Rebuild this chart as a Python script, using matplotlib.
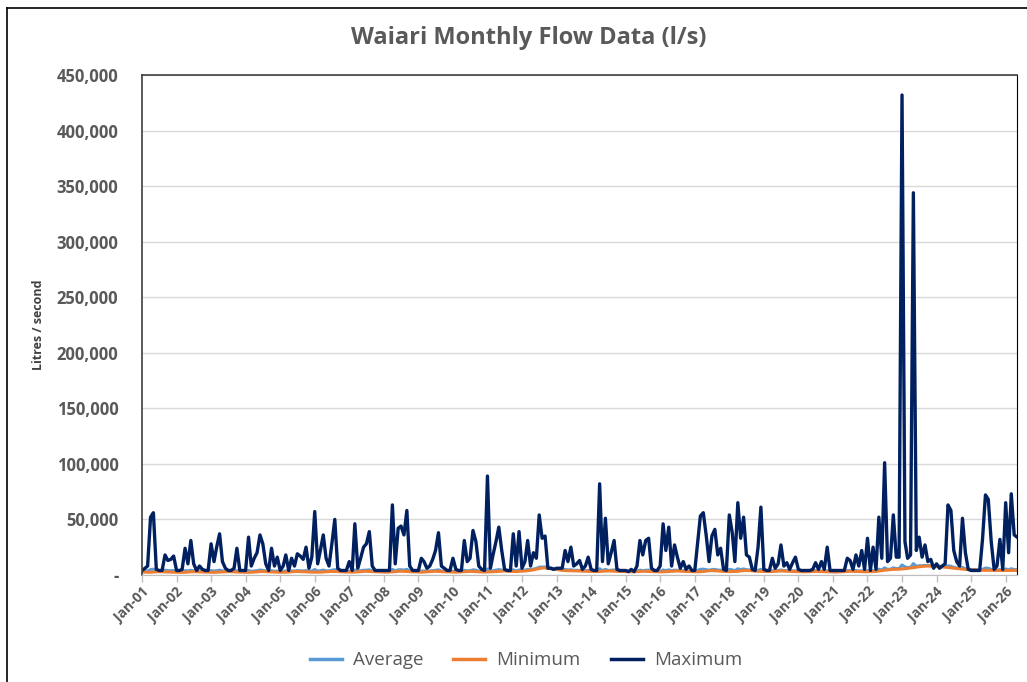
import matplotlib
matplotlib.use("Agg")
import matplotlib.pyplot as plt
import matplotlib.dates as mdates
from matplotlib.ticker import FuncFormatter
from matplotlib.lines import Line2D
import pandas as pd

# monthly maximum flow (l/s), one row per year, Jan 2001 .. May 2026
max_2001 = [4000, 6000, 8000, 52000, 56000, 5000, 4000, 4000, 18000, 13000, 14000, 17000]
max_2002 = [4000, 4000, 5000, 24000, 10000, 31000, 10000, 4000, 8000, 5000, 4000, 4000]
max_2003 = [28000, 12000, 25000, 37000, 12000, 6000, 4000, 4000, 6000, 24000, 4000, 4000]
max_2004 = [4000, 34000, 8000, 15000, 20000, 36000, 28000, 10000, 4000, 24000, 8000, 16000]
max_2005 = [4000, 8000, 18000, 4000, 15000, 8000, 19000, 17000, 14000, 25000, 6000, 16000]
max_2006 = [57000, 10000, 22000, 36000, 15000, 8000, 28000, 50000, 6000, 4000, 4000, 4000]
max_2007 = [12000, 4000, 46000, 6000, 15000, 25000, 28000, 39000, 8000, 4000, 4000, 4000]
max_2008 = [4000, 4000, 4000, 63000, 10000, 42000, 44000, 36000, 58000, 8000, 4000, 4000]
max_2009 = [4000, 15000, 12000, 6000, 8000, 14000, 22000, 38000, 8000, 6000, 4000, 4000]
max_2010 = [15000, 5000, 4000, 4000, 31000, 12000, 15000, 40000, 30000, 8000, 5000, 4000]
max_2011 = [89000, 6000, 18000, 30000, 43000, 22000, 5000, 4000, 4000, 37000, 8000, 39000]
max_2012 = [6000, 12000, 31000, 8000, 20000, 15000, 54000, 33000, 35000, 6000, 6000, 5000]
max_2013 = [6000, 6000, 6000, 22000, 12000, 25000, 8000, 10000, 13000, 5000, 8000, 16000]
max_2014 = [5000, 4000, 4000, 82000, 12000, 51000, 10000, 20000, 31000, 5000, 4000, 4000]
max_2015 = [4000, 3000, 5000, 3000, 8000, 31000, 18000, 31000, 33000, 6000, 4000, 4000]
max_2016 = [8000, 46000, 22000, 43000, 8000, 27000, 16000, 6000, 12000, 5000, 8000, 4000]
max_2017 = [4000, 30000, 53000, 56000, 36000, 12000, 35000, 41000, 18000, 24000, 5000, 4000]
max_2018 = [54000, 38000, 12000, 65000, 33000, 52000, 18000, 16000, 5000, 4000, 25000, 61000]
max_2019 = [5000, 4000, 4000, 15000, 6000, 10000, 27000, 8000, 11000, 5000, 11000, 16000]
max_2020 = [5000, 4000, 4000, 4000, 4000, 5000, 11000, 5000, 12000, 5000, 25000, 4000]
max_2021 = [4000, 4000, 4000, 4000, 4000, 15000, 13000, 5000, 18000, 8000, 22000, 5000]
max_2022 = [33000, 4000, 25000, 5000, 52000, 15000, 101000, 12000, 15000, 54000, 16000, 16000]
max_2023 = [432000, 30000, 15000, 18000, 344000, 22000, 34000, 16000, 27000, 12000, 14000, 6000]
max_2024 = [10000, 6000, 8000, 10000, 63000, 58000, 22000, 12000, 8000, 51000, 20000, 5000]
max_2025 = [4000, 4000, 4000, 4000, 32000, 72000, 68000, 30000, 5000, 8000, 32000, 5000]
max_2026 = [65000, 20000, 73000, 36000, 34000]

min_2001 = [2600, 2500, 2500, 2400, 2600, 2800, 2900, 2800, 2700, 2600, 2500, 2500]
min_2002 = [2400, 2300, 2300, 2400, 2600, 2800, 2900, 2800, 2700, 2600, 2500, 2400]
min_2003 = [2400, 2300, 2400, 2500, 2700, 2900, 3000, 2900, 2800, 2600, 2500, 2400]
min_2004 = [2300, 2300, 2400, 2600, 2800, 3000, 3100, 3000, 2800, 2700, 2600, 2500]
min_2005 = [2400, 2400, 2500, 2600, 2800, 3000, 3100, 3000, 2900, 2800, 2600, 2500]
min_2006 = [2500, 2400, 2500, 2700, 2900, 3100, 3200, 3100, 3000, 2800, 2700, 2600]
min_2007 = [2500, 2500, 2600, 2800, 3000, 3200, 3300, 3200, 3000, 2900, 2700, 2600]
min_2008 = [2500, 2500, 2600, 2800, 3000, 3300, 3400, 3300, 3100, 2900, 2800, 2700]
min_2009 = [2600, 2500, 2600, 2800, 3000, 3200, 3300, 3200, 3000, 2900, 2800, 2700]
min_2010 = [2600, 2500, 2600, 2700, 2900, 3100, 3200, 3100, 3000, 2800, 2700, 2600]
min_2011 = [2700, 2700, 2800, 3000, 3200, 3500, 3600, 3500, 3300, 3100, 3000, 3200]
min_2012 = [3400, 3500, 3800, 4200, 4600, 5200, 5800, 6200, 6300, 6000, 5600, 5200]
min_2013 = [4800, 4400, 4100, 3900, 3800, 3800, 3700, 3600, 3500, 3400, 3300, 3200]
min_2014 = [3100, 3000, 3000, 3100, 3300, 3500, 3600, 3500, 3400, 3200, 3100, 3000]
min_2015 = [2900, 2800, 2800, 2900, 3000, 3200, 3300, 3200, 3100, 3000, 2900, 2800]
min_2016 = [2800, 2800, 2900, 3100, 3300, 3500, 3600, 3500, 3300, 3100, 3000, 2900]
min_2017 = [2800, 2800, 2900, 3100, 3400, 3700, 3900, 3800, 3600, 3400, 3200, 3100]
min_2018 = [3000, 3000, 3100, 3300, 3600, 3900, 4000, 3900, 3700, 3500, 3300, 3200]
min_2019 = [3100, 3000, 3000, 3100, 3300, 3500, 3600, 3500, 3400, 3200, 3100, 3000]
min_2020 = [2900, 2800, 2800, 2900, 3000, 3100, 3200, 3100, 3000, 2900, 2800, 2700]
min_2021 = [2700, 2600, 2700, 2800, 3000, 3200, 3300, 3200, 3100, 3000, 2900, 2900]
min_2022 = [2900, 2900, 3000, 3200, 3500, 3900, 4300, 4600, 4800, 5000, 5100, 5200]
min_2023 = [5400, 5600, 5900, 6200, 6600, 7000, 7400, 7700, 7900, 8000, 8000, 7900]
min_2024 = [7800, 7600, 7300, 7000, 6700, 6400, 6100, 5800, 5500, 5200, 5000, 4800]
min_2025 = [4600, 4400, 4300, 4200, 4100, 4100, 4200, 4200, 4100, 4000, 4000, 3900]
min_2026 = [3900, 3900, 4000, 4100, 4100]

avg_2001 = [3300, 3400, 3500, 4800, 5200, 3700, 3500, 3400, 4300, 3900, 3800, 3900]
avg_2002 = [3200, 3100, 3100, 3900, 3600, 4200, 3700, 3400, 3500, 3300, 3200, 3100]
avg_2003 = [4000, 3500, 3800, 4300, 3600, 3500, 3500, 3400, 3400, 3900, 3200, 3100]
avg_2004 = [3000, 4000, 3300, 3600, 3800, 4400, 4100, 3600, 3300, 3800, 3300, 3500]
avg_2005 = [3100, 3200, 3700, 3200, 3600, 3500, 3900, 3800, 3600, 3900, 3300, 3500]
avg_2006 = [4900, 3400, 3800, 4400, 3700, 3700, 4200, 4800, 3500, 3300, 3200, 3100]
avg_2007 = [3400, 3100, 4500, 3500, 3800, 4200, 4300, 4600, 3600, 3400, 3200, 3100]
avg_2008 = [3000, 3000, 3100, 5000, 3700, 4600, 4700, 4400, 5000, 3500, 3300, 3200]
avg_2009 = [3100, 3500, 3500, 3400, 3600, 3900, 4200, 4600, 3600, 3400, 3300, 3200]
avg_2010 = [3400, 3100, 3100, 3200, 4100, 3700, 3800, 4600, 4300, 3400, 3200, 3100]
avg_2011 = [5400, 3300, 3800, 4300, 4800, 4300, 3900, 3800, 3600, 4600, 3500, 4500]
avg_2012 = [4100, 4300, 5000, 4700, 5300, 5800, 7000, 7100, 7200, 6600, 6200, 5800]
avg_2013 = [5400, 5000, 4700, 5000, 4500, 4700, 4200, 4100, 4100, 3800, 3800, 4000]
avg_2014 = [3600, 3500, 3500, 5600, 3900, 5000, 4000, 4200, 4500, 3700, 3500, 3400]
avg_2015 = [3300, 3200, 3200, 3300, 3500, 4300, 3900, 4200, 4300, 3500, 3300, 3200]
avg_2016 = [3300, 4500, 3900, 4600, 3800, 4300, 4100, 3900, 3800, 3500, 3400, 3300]
avg_2017 = [3200, 4100, 5000, 5200, 4700, 4300, 4800, 5000, 4400, 4300, 3600, 3500]
avg_2018 = [5000, 4600, 3800, 5500, 4800, 5400, 4700, 4500, 4100, 3900, 4200, 5000]
avg_2019 = [3600, 3400, 3400, 3800, 3700, 3900, 4500, 3900, 3900, 3600, 3600, 3700]
avg_2020 = [3300, 3200, 3200, 3200, 3300, 3400, 3700, 3500, 3600, 3300, 3800, 3100]
avg_2021 = [3000, 3000, 3100, 3100, 3300, 3800, 3900, 3600, 4000, 3500, 3800, 3300]
avg_2022 = [4000, 3300, 3900, 3600, 5200, 4400, 6400, 5000, 5200, 6400, 5800, 5700]
avg_2023 = [9000, 7200, 6500, 6800, 10200, 7800, 8300, 8300, 8600, 8500, 8400, 8200]
avg_2024 = [8100, 7900, 7600, 7300, 8200, 7800, 6800, 6300, 5900, 6700, 5600, 5200]
avg_2025 = [4900, 4700, 4600, 4500, 5000, 6200, 6000, 5000, 4400, 4300, 4800, 4200]
avg_2026 = [5400, 4600, 5600, 4800, 4700]

maximum = (max_2001 + max_2002 + max_2003 + max_2004 + max_2005 + max_2006 + max_2007
           + max_2008 + max_2009 + max_2010 + max_2011 + max_2012 + max_2013 + max_2014
           + max_2015 + max_2016 + max_2017 + max_2018 + max_2019 + max_2020 + max_2021
           + max_2022 + max_2023 + max_2024 + max_2025 + max_2026)
minimum = (min_2001 + min_2002 + min_2003 + min_2004 + min_2005 + min_2006 + min_2007
           + min_2008 + min_2009 + min_2010 + min_2011 + min_2012 + min_2013 + min_2014
           + min_2015 + min_2016 + min_2017 + min_2018 + min_2019 + min_2020 + min_2021
           + min_2022 + min_2023 + min_2024 + min_2025 + min_2026)
average = (avg_2001 + avg_2002 + avg_2003 + avg_2004 + avg_2005 + avg_2006 + avg_2007
           + avg_2008 + avg_2009 + avg_2010 + avg_2011 + avg_2012 + avg_2013 + avg_2014
           + avg_2015 + avg_2016 + avg_2017 + avg_2018 + avg_2019 + avg_2020 + avg_2021
           + avg_2022 + avg_2023 + avg_2024 + avg_2025 + avg_2026)

months = pd.date_range("2001-01-01", periods=len(maximum), freq="MS")

grey = "#595959"
plt.rcParams['font.family'] = ['Open Sans', 'DejaVu Sans']

fig = plt.figure(figsize=(10.27, 6.82), dpi=100)
ax = fig.add_axes([0.1383, 0.157, 0.852, 0.733])

ax.plot(months, average, color="#5B9BD5", lw=2.2, label="Average")
ax.plot(months, minimum, color="#ED7D31", lw=2.2, label="Minimum")
ax.plot(months, maximum, color="#002060", lw=2.4, label="Maximum")

ax.set_xlim(months[0], months[-1])
ax.set_ylim(0, 450000)
ax.set_yticks(range(0, 450001, 50000))
ax.yaxis.set_major_formatter(FuncFormatter(lambda v, p: "-" if v == 0 else f"{int(v):,}"))
ax.grid(axis="y", color="#d9d9d9", lw=1)
ax.set_axisbelow(True)

ax.xaxis.set_major_locator(mdates.MonthLocator(bymonth=1))
ax.xaxis.set_major_formatter(mdates.DateFormatter("Jan-%y"))
for lbl in ax.get_xticklabels():
    lbl.set_rotation(45)
    lbl.set_ha("right")
    lbl.set_rotation_mode("anchor")
ax.tick_params(axis="x", colors="#bfbfbf", length=5, width=1, labelsize=10, labelcolor=grey, pad=2)
ax.tick_params(axis="y", length=0, labelsize=12, labelcolor=grey, pad=17)
for lbl in ax.get_xticklabels() + ax.get_yticklabels():
    lbl.set_fontweight("bold")

for s in ["left", "top"]:
    ax.spines[s].set_color("#404040")
    ax.spines[s].set_linewidth(1.2)
ax.spines["right"].set_color("#000000")
ax.spines["bottom"].set_color("#bfbfbf")

ax.set_ylabel("Litres / second", fontsize=9, fontweight="bold", color="#404040", labelpad=8)

fig.text(0.515, 0.944, "Waiari Monthly Flow Data (l/s)", ha="center", va="center",
         fontsize=17, fontweight="bold", color=grey)

handles = [Line2D([], [], color="#5B9BD5", lw=2.5),
           Line2D([], [], color="#ED7D31", lw=2.5),
           Line2D([], [], color="#002060", lw=2.5)]
fig.legend(handles, ["Average", "Minimum", "Maximum"], loc="center", bbox_to_anchor=(0.512, 0.032),
           ncol=3, frameon=False, fontsize=13.5, labelcolor=grey, handlelength=1.7,
           handletextpad=0.6, columnspacing=1.6)

# outer chart frame (left and top edges visible)
fig.add_artist(Line2D([0.007, 0.007], [0.0, 0.988], color="black", lw=1.2, transform=fig.transFigure))
fig.add_artist(Line2D([0.007, 1.0], [0.988, 0.988], color="black", lw=1.2, transform=fig.transFigure))

fig.savefig("out.png", dpi=100)
